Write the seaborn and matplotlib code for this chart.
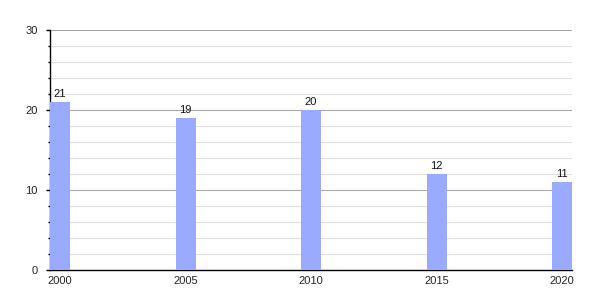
import matplotlib
matplotlib.use('Agg')
import matplotlib.pyplot as plt
import seaborn as sns
import pandas as pd
from matplotlib.ticker import MultipleLocator

years = ['2000', '2005', '2010', '2015', '2020']
values = [21, 19, 20, 12, 11]

df = pd.DataFrame({'year': years, 'value': values})

sns.set_style('white')
plt.rcParams['font.family'] = ['Liberation Sans', 'DejaVu Sans']

fig = plt.figure(figsize=(6, 3), dpi=100)
ax = fig.add_axes([50 / 600, 30 / 300, 522 / 600, 240 / 300])

bar_w = 20 / 125.5
sns.barplot(data=df, x='year', y='value', color='#99aaff', saturation=1,
            width=bar_w, linewidth=0, ax=ax, zorder=3)

ax.bar_label(ax.containers[0], padding=2, fontsize=8, color='#111111')

ax.set_xlim(-bar_w / 2, 4 + bar_w / 2)
ax.set_ylim(0, 30)
ax.yaxis.set_major_locator(MultipleLocator(10))
ax.yaxis.set_minor_locator(MultipleLocator(2))
ax.grid(axis='y', which='major', color='#aaaaaa', linewidth=0.8, zorder=0)
ax.grid(axis='y', which='minor', color='#e0e0e0', linewidth=0.8, zorder=0)
ax.set_axisbelow(True)

for s in ['top', 'right']:
    ax.spines[s].set_visible(False)
ax.spines['left'].set_color('black')
ax.spines['bottom'].set_color('black')
ax.spines['left'].set_linewidth(1)
ax.spines['bottom'].set_linewidth(1)

ax.tick_params(axis='y', which='major', left=True, length=3, width=1,
               labelsize=8, pad=6, color='black')
ax.tick_params(axis='y', which='minor', left=True, length=1.5, width=1, color='black')
ax.tick_params(axis='x', bottom=False, labelsize=8, pad=1)

ax.set_xlabel('')
ax.set_ylabel('')

fig.savefig('out.png', dpi=100)
